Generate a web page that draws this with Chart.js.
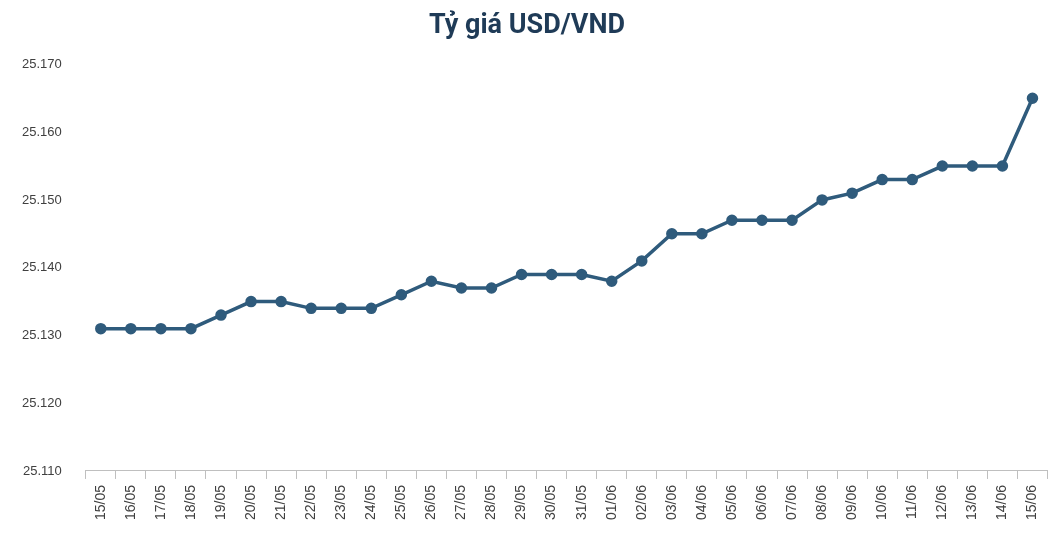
<!DOCTYPE html>
<html>
<head>
<meta charset="utf-8">
<script src="https://cdn.jsdelivr.net/npm/chart.js@4/dist/chart.umd.min.js"></script>
<style>
  body { margin: 0; background: #fff; }
  #wrap { width: 1056px; height: 538px; }
</style>
</head>
<body>
<div id="wrap"><canvas id="grafico"></canvas></div>
<script>
// Dados do gráfico
const ngay = [
  "15/05","16/05","17/05","18/05","19/05","20/05","21/05","22/05","23/05","24/05",
  "25/05","26/05","27/05","28/05","29/05","30/05","31/05","01/06","02/06","03/06",
  "04/06","05/06","06/06","07/06","08/06","09/06","10/06","11/06","12/06","13/06",
  "14/06","15/06"
]
const tyGia = [
  25.131, 25.131, 25.131, 25.131, 25.133, 25.135, 25.135, 25.134, 25.134, 25.134,
  25.136, 25.138, 25.137, 25.137, 25.139, 25.139, 25.139, 25.138, 25.141, 25.145,
  25.145, 25.147, 25.147, 25.147, 25.150, 25.151, 25.153, 25.153, 25.155, 25.155,
  25.155, 25.165
]
const yMin = 25.110
const yMax = 25.170
const yStep = 0.010

const mauDuong = "#2f5b7c"

new Chart(document.getElementById("grafico"), {
  type: "line",
  data: {
    labels: ngay,
    datasets: [{
      data: tyGia,
      borderColor: mauDuong,
      backgroundColor: mauDuong,
      borderWidth: 3.5,
      pointRadius: 4,
      pointHoverRadius: 5,
      tension: 0,
    }],
  },
  options: {
    responsive: true,
    maintainAspectRatio: false,
    animation: false,
    layout: { padding: { left: 6, right: 8, top: 4, bottom: 12 } },
    plugins: {
      legend: { display: false },
      tooltip: { enabled: false },
      title: {
        display: true,
        text: "Tỷ giá USD/VND",
        color: "#1f3b57",
        font: { family: "Roboto", size: 27, weight: "bold" },
        padding: { top: 6, bottom: 22 },
      },
    },
    scales: {
      x: {
        offset: true,
        grid: { display: true, offset: true, drawOnChartArea: false, tickLength: 8, color: "#bfbfbf" },
        border: { color: "#bfbfbf" },
        ticks: {
          color: "#404040",
          font: { family: "Liberation Sans", size: 14 },
          minRotation: 90,
          maxRotation: 90,
          autoSkip: false,
          padding: 6,
        },
      },
      y: {
        min: yMin,
        max: yMax,
        grid: { display: false },
        border: { display: false },
        ticks: {
          stepSize: yStep,
          color: "#404040",
          font: { family: "Liberation Sans", size: 13 },
          padding: 16,
          callback: (v) => v.toFixed(3),
        },
      },
    },
  },
})
</script>
</body>
</html>
